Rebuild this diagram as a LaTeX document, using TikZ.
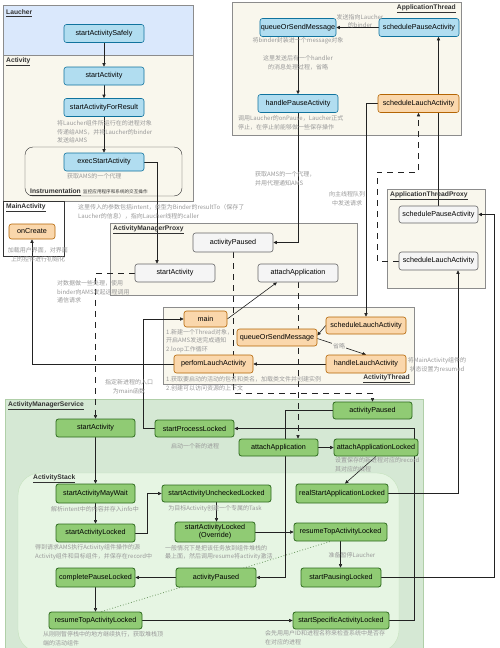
\documentclass[tikz,border=0pt]{standalone}
\usepackage{fontspec}
\setmainfont{Liberation Sans}
\newfontfamily\cjk{Noto Sans CJK SC}
\usetikzlibrary{arrows.meta}
\pgfdeclarelayer{bg}
\pgfdeclarelayer{edges}
\pgfsetlayers{bg,edges,main}
\definecolor{blfill}{HTML}{B1DDF0}
\definecolor{bldraw}{HTML}{10739E}
\definecolor{orfill}{HTML}{FAD7AC}
\definecolor{ordraw}{HTML}{B46504}
\definecolor{gyfill}{HTML}{F5F5F5}
\definecolor{gydraw}{HTML}{666666}
\definecolor{grfill}{HTML}{90CB74}
\definecolor{grdraw}{HTML}{2D6A1E}
\definecolor{cream}{HTML}{F9F7ED}
\definecolor{laufill}{HTML}{DAE8FC}
\definecolor{amsfill}{HTML}{D5E8D4}
\definecolor{amsdraw}{HTML}{B0CFA8}
\definecolor{stackfill}{HTML}{E6F5E3}
\definecolor{stackdraw}{HTML}{C5E2BD}
\definecolor{boxcol}{HTML}{8C8C8C}
\definecolor{darkcol}{HTML}{333333}
\definecolor{notecol}{HTML}{999999}
\definecolor{edgecol}{HTML}{222222}
\begin{document}
\begin{tikzpicture}[x=1pt,y=-1pt,
  fn/.style={draw,rounded corners=2.5pt,minimum height=18,inner sep=1pt,align=center,
    line width=0.6pt,font=\fontsize{7.2}{8.5}\selectfont},
  bluebox/.style={fn,fill=blfill,draw=bldraw},
  orangebox/.style={fn,fill=orfill,draw=ordraw},
  greybox/.style={fn,fill=gyfill,draw=gydraw},
  greenbox/.style={fn,fill=grfill,draw=grdraw,line width=0.8pt},
  note/.style={font=\cjk\fontsize{6}{8.6}\selectfont,text=notecol,inner sep=0pt,align=left},
  cnote/.style={note,align=center},
  title/.style={font=\bfseries\fontsize{6.7}{8}\selectfont,text=darkcol,inner sep=0pt},
  arr/.style={draw=edgecol,line width=0.6pt,-{Triangle[length=3.5pt,width=3.2pt]}},
  dashline/.style={arr,dash pattern=on 6pt off 5pt},
]
\useasboundingbox (0,0) rectangle (500,648);
\begin{pgfonlayer}{bg}
  \fill[white] (0,0) rectangle (500,648);
  \draw[fill=laufill,draw=boxcol] (3,5) rectangle (193,55);
  \draw[fill=cream,draw=boxcol] (3,55) rectangle (193,201);
  \draw[draw=darkcol,rounded corners=8pt] (25,147) rectangle (182,196);
  \draw[fill=white,draw=darkcol] (3,201) rectangle (64,256);
  \draw[fill=cream,draw=boxcol] (232,2) rectangle (461,135);
  \draw[fill=cream,draw=boxcol] (387,189) rectangle (485,288);
  \draw[fill=cream,draw=boxcol] (110,223) rectangle (357,295);
  \draw[fill=cream,draw=boxcol] (163,307) rectangle (414,384);
  \draw[fill=amsfill,draw=amsdraw] (5,399) rectangle (423,660);
  \draw[fill=stackfill,draw=stackdraw,rounded corners=22pt] (18,473) rectangle (399,652);
\end{pgfonlayer}

\node[title,anchor=west] (tLau) at (6,13) {\underline{Laucher}};
\node[title,anchor=west] (tAct) at (6,62) {\underline{Activity}};
\node[title,anchor=west] (tIns) at (30,192) {\underline{Instrumentation}};
\node[note,anchor=west,text=darkcol,font=\cjk\fontsize{4.6}{6}\selectfont] (nIns) at (83,192) {监控应用程序和系统的交互操作};
\node[title,anchor=west] (tMain) at (6,208) {\underline{MainActivity}};
\node[title,anchor=east] (tAT) at (456,9) {\underline{ApplicationThread}};
\node[title,anchor=west] (tATP) at (390,196) {\underline{ApplicationThreadProxy}};
\node[title,anchor=west] (tAMP) at (113,230) {\underline{ActivityManagerProxy}};
\node[title,anchor=east] (tThr) at (410,379) {\underline{ActivityThread}};
\node[title,anchor=west] (tAMS) at (8,406) {\underline{ActivityManagerService}};
\node[title,anchor=west] (tStk) at (33,479) {\underline{ActivityStack}};

\node[bluebox,minimum width=80] (safely) at (104,33.5) {startActivitySafely};
\node[bluebox,minimum width=80] (actStart) at (104,76) {startActivity};
\node[bluebox,minimum width=80] (forResult) at (104,107.5) {startActivityForResult};
\node[bluebox,minimum width=80] (exec) at (104,162) {execStartActivity};
\node[bluebox,minimum width=76] (atQueue) at (298,27.5) {queueOrSendMessage};
\node[bluebox,minimum width=80] (atPause) at (419,27.5) {schedulePauseActivity};
\node[bluebox,minimum width=80] (atHandle) at (298,103.5) {handlePauseActivity};
\node[orangebox,minimum width=81] (atLauch) at (418.5,103.5) {scheduleLauchActivity};

\node[greybox,minimum width=79,minimum height=17] (aptPause) at (438.5,214.5) {schedulePauseActivity};
\node[greybox,minimum width=79] (aptLauch) at (438.5,261) {scheduleLauchActivity};
\node[greybox,minimum width=80,minimum height=19] (ampPaused) at (233,242.5) {activityPaused};
\node[greybox,minimum width=80] (ampStart) at (175,273) {startActivity};
\node[greybox,minimum width=80] (ampAttach) at (298,273) {attachApplication};

\node[orangebox,minimum width=43,minimum height=16] (main) at (205.5,319) {main};
\node[orangebox,minimum width=80,minimum height=17] (thQueue) at (277,337.5) {queueOrSendMessage};
\node[orangebox,minimum width=80,minimum height=17] (thSched) at (366,325.5) {scheduleLauchActivity};
\node[orangebox,minimum width=80] (thHandle) at (366,364) {handleLauchActivity};
\node[orangebox,minimum width=79] (perform) at (213.5,364) {perfomLauchActivity};
\node[orangebox,minimum width=46,minimum height=15] (onCreate) at (32,231.5) {onCreate};

\node[greenbox,minimum width=79] (amsStart) at (95.5,428) {startActivity};
\node[greenbox,minimum width=79,minimum height=17] (procLocked) at (194.5,428.5) {startProcessLocked};
\node[greenbox,minimum width=79,minimum height=17] (amsPaused) at (372.5,410.5) {activityPaused};
\node[greenbox,minimum width=79,minimum height=17] (amsAttach) at (278.5,447.5) {attachApplication};
\node[greenbox,minimum width=84,minimum height=17] (attachLocked) at (376,447.5) {attachApplicationLocked};
\node[greenbox,minimum width=92,minimum height=19] (realStart) at (342,493.5) {realStartApplicationLocked};
\node[greenbox,minimum width=79,minimum height=19] (mayWait) at (95.5,493.5) {startActivityMayWait};
\node[greenbox,minimum width=79] (startLocked) at (95.5,533) {startActivityLocked};
\node[greenbox,minimum width=109,minimum height=17] (unchecked) at (216.5,493.5) {startActivityUncheckedLocked};
\node[greenbox,minimum width=80,minimum height=20,font=\fontsize{7.2}{8}\selectfont] (override) at (215,532) {startActivityLocked\\(Override)};
\node[greenbox,minimum width=93] (resumeR) at (340.5,532) {resumeTopActivityLocked};
\node[greenbox,minimum width=80,minimum height=19] (pausing) at (341,577.5) {startPausingLocked};
\node[greenbox,minimum width=80,minimum height=19] (stackPaused) at (216,577.5) {activityPaused};
\node[greenbox,minimum width=79,minimum height=19] (complete) at (95.5,577.5) {completePauseLocked};
\node[greenbox,minimum width=93,minimum height=17] (resumeL) at (95.5,620.5) {resumeTopActivityLocked};
\node[greenbox,minimum width=96,minimum height=17] (specific) at (341,620.5) {startSpecificActivityLocked};

\node[note,anchor=west] (nForResult) at (57,132) {将Laucher组件所运行在的进程对象\\传递给AMS，并将Laucher的binder\\发送给AMS};
\node[note,anchor=west] (nExec) at (67,176) {获取AMS的一个代理};
\node[cnote] (nBinder) at (360,21) {发送指向Laucher\\的binder};
\node[cnote] (nQueue) at (298,40.5) {将binder封装进一个message对象};
\node[cnote] (nHandler) at (298,63) {这里发送后有一个handler\\的消息处理过程，省略};
\node[note,anchor=west] (nPause) at (238,122.5) {调用Laucher的onPause，Laucher正式\\停止，在停止前能够做一些保存操作};
\node[note,anchor=west] (nProxy) at (255,178.5) {获取AMS的一个代理，\\并用代理通知AMS};
\node[cnote] (nMainQ) at (347,198.5) {向主线程队列\\中发送请求};
\node[note,anchor=west] (nIntent) at (78,212) {这里传入的参数包括intent，类型为Binder的resultTo（保存了\\Laucher的信息），指向Laucher线程的caller};
\node[note,anchor=west] (nRemote) at (57,292) {对数据做一些处理，使用\\binder向AMS发起远程调用\\通信请求};
\node[cnote] (nCreate) at (38,255) {加载用户界面，对界面\\上的控件进行初始化};
\node[note,anchor=west] (nMain) at (166,341) {1.新建一个Thread对象，\\开启AMS发送完成通知\\2.loop工作循环};
\node[cnote] (nResumed) at (437,365) {将MainActivity组件的\\状态设置为resumed};
\node[note,anchor=west] (nPerform) at (166,384) {1.获取要启动的活动的包名和类名，加载类文件并创建实例\\2.创建可以访问资源的上下文};
\node[cnote] (nEntry) at (129,387) {指定新进程的入口\\为main函数};
\node[cnote] (nNewProc) at (195,446.5) {启动一个新的进程};
\node[note,anchor=west] (nRecord) at (335,465) {设置保存的新进程对应的record\\其对应的线程};
\node[cnote] (nMayWait) at (95,509) {解析intent中的内容并存入info中};
\node[cnote] (nUnchecked) at (215,509) {为目标Activity创建一个专属的Task};
\node[note,anchor=west] (nLocked) at (35,552) {得到请求AMS执行Activity组件操作的源\\Activity组件和目标组件，并保存在record中};
\node[note,anchor=west] (nOverride) at (165,552.5) {一般情况下是把该任务放到组件堆栈的\\最上面，然后调用resume将activity激活};
\node[cnote] (nPausing) at (352,555) {准备暂停Laucher};
\node[note,anchor=west] (nResume) at (43,638.5) {从刚刚暂停栈中的地方继续执行，获取堆栈顶\\端的活动组件};
\node[note,anchor=west] (nSpecific) at (265,638) {会先用用户ID和进程名称来检查系统中是否存\\在对应的进程};

\begin{pgfonlayer}{edges}
  \draw[arr] (safely) -- (actStart);
  \draw[arr] (actStart) -- (forResult);
  \draw[arr] (forResult) -- (exec);
  \draw[arr] (exec.east) -| ([xshift=-18pt]ampStart.north);
  \draw[dashline] (ampStart.west) -| (amsStart.north);
  \draw[arr] (atPause) -- (atQueue);
  \draw[arr] (atQueue) -- (atHandle);
  \draw[arr] (atHandle.south) |- (ampPaused.east);
  \draw[arr] (aptPause.north) -- (aptPause.north |- atPause.south);
  \draw[dashline] (aptLauch.west) -| (377,172) -| (atLauch.south);
  \draw[arr] (atLauch.west) -| (thSched.north);
  \draw[dashline] (ampPaused.south) |- (372.5,393) -- (amsPaused.north);
  \draw[dashline] (ampAttach.south) -- (ampAttach.south |- amsAttach.north);
  \draw[arr] (main.east) -- ([xshift=-21pt]ampAttach.south);
  \draw[arr] (thSched.west) -- ([yshift=2pt]thQueue.east);
  \draw[arr] ([yshift=-1pt]thQueue.east) -- node[cnote,fill=cream,inner sep=1pt,pos=0.45] (nOmit) {省略} (thHandle.north);
  \draw[arr] (thHandle) -- (perform);
  \draw[arr] (perform.west) -| (onCreate.south);
  \draw[arr] (procLocked.west) -- ++(-11,0) |- (main.west);
  \draw[arr] (amsStart) -- (mayWait);
  \draw[arr] (mayWait) -- (startLocked);
  \draw[arr] (startLocked.east) -- ++(12,0) |- (unchecked.west);
  \draw[arr] (unchecked.south) -- (unchecked.south |- override.north);
  \draw[arr] (override) -- (resumeR);
  \draw[arr] (resumeR.south) -- (resumeR.south |- pausing.north);
  \draw[arr] (pausing.east) -- (494,577.5) |- (aptPause.east);
  \draw[arr] (realStart.east) -| ([xshift=19.5pt]aptLauch.south);
  \draw[arr] (attachLocked.south) -- ([xshift=3pt]realStart.north);
  \draw[arr] (amsAttach) -- (attachLocked);
  \draw[arr] (amsPaused.west) -- (285,410.5) |- (stackPaused.east);
  \draw[arr] (stackPaused) -- (complete);
  \draw[arr] (complete) -- (resumeL);
  \draw[arr] (resumeL) -- (specific);
  \draw[arr] (specific.east) -- (414,620.5) |- (procLocked.east);
  \draw[draw=grdraw!70,line width=0.8pt,dotted] ([xshift=6pt]resumeL.north) -- ([xshift=-10pt]resumeR.south);
\end{pgfonlayer}
\end{tikzpicture}
\end{document}
